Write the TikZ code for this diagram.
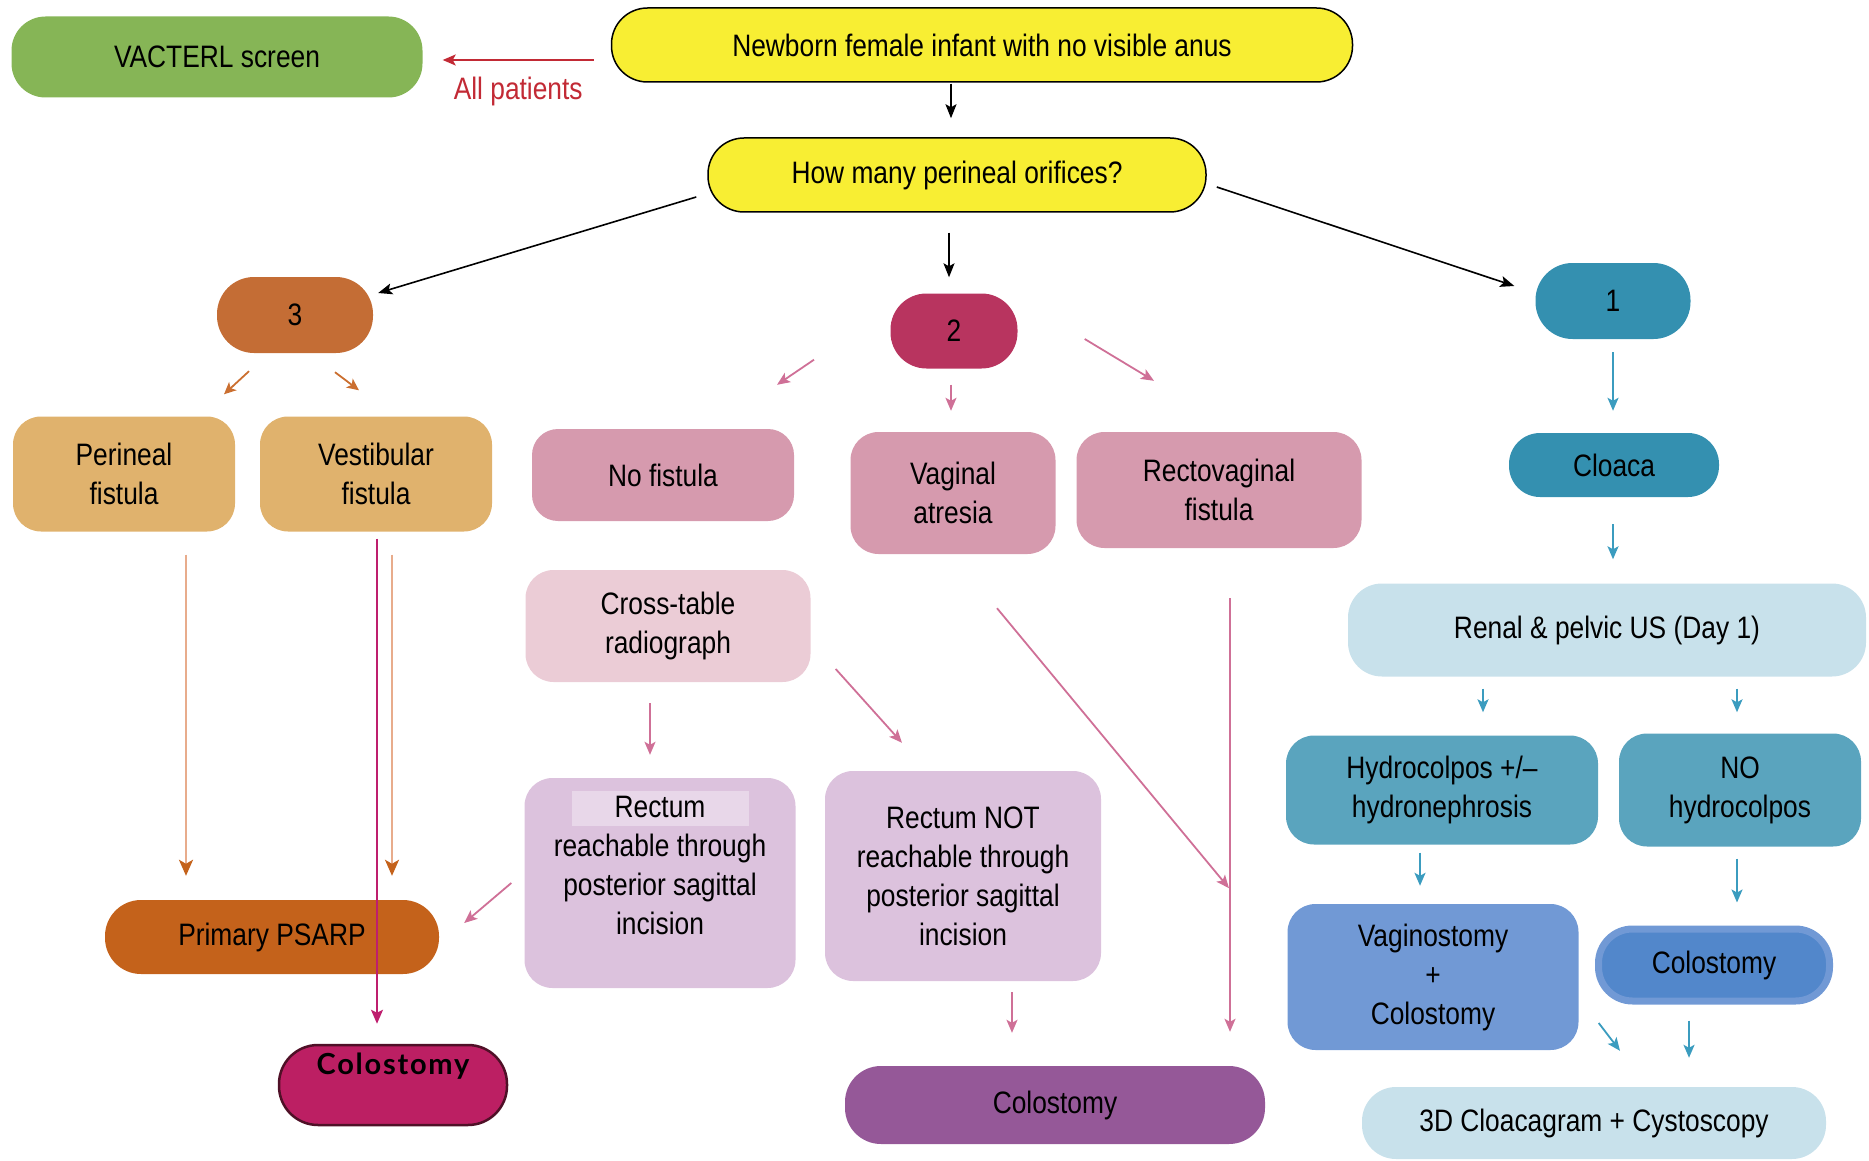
\documentclass[tikz,border=0pt]{standalone}
\usepackage{fontspec}
\setmainfont{Liberation Sans}[FakeStretch=0.85]
\newfontfamily\gillfont[LetterSpace=6]{Lato}
\usetikzlibrary{positioning, arrows.meta, calc}
\definecolor{vacgreen}{HTML}{86B556}
\definecolor{yel}{HTML}{F8EE33}
\definecolor{three}{HTML}{C46D35}
\definecolor{fist}{HTML}{E0B26D}
\definecolor{psarp}{HTML}{C4621B}
\definecolor{colmag}{HTML}{BC1F63}
\definecolor{colmagdark}{HTML}{4F1027}
\definecolor{two}{HTML}{B8345F}
\definecolor{pinkbox}{HTML}{D69AAE}
\definecolor{ctbox}{HTML}{EBCCD6}
\definecolor{rectbox}{HTML}{DCC2DD}
\definecolor{rectlite}{HTML}{E8D7E9}
\definecolor{colpur}{HTML}{955898}
\definecolor{one}{HTML}{3490B0}
\definecolor{renal}{HTML}{C8E1EB}
\definecolor{hydro}{HTML}{5AA4BE}
\definecolor{vagbox}{HTML}{7199D5}
\definecolor{colin}{HTML}{5287CB}
\definecolor{redline}{HTML}{C22A35}
\definecolor{orline}{HTML}{CB6F30}
\definecolor{orlite}{HTML}{E8AC8C}
\definecolor{magline}{HTML}{BE1E6E}
\definecolor{pkline}{HTML}{CF7097}
\definecolor{tlline}{HTML}{3B9CBF}
\tikzset{
  box/.style={rectangle, rounded corners=28pt, align=center, inner sep=2pt,
    font=\fontsize{31}{39}\selectfont},
  blk/.style={draw=black, line width=1.6pt, -{Stealth[length=14pt, width=11pt, inset=3pt]}},
  redarr/.style={draw=redline, line width=2pt, -{Stealth[length=13pt, width=11pt, inset=3pt]}},
  orarr/.style={draw=orline, line width=1.8pt, -{Stealth[length=12pt, width=11pt, inset=3pt]}},
  orlong/.style={draw=orlite, line width=2.4pt, -{Stealth[length=16pt, width=14pt, inset=4pt, color=psarp]}},
  magarr/.style={draw=magline, line width=1.6pt, -{Stealth[length=14pt, width=12pt, inset=3pt]}},
  pkarr/.style={draw=pkline, line width=1.8pt, -{Stealth[length=13pt, width=11pt, inset=3pt]}},
  tlarr/.style={draw=tlline, line width=1.8pt, -{Stealth[length=13pt, width=11pt, inset=3pt]}},
}

\begin{document}
\begin{tikzpicture}[x=1pt, y=-1pt]
  \useasboundingbox (0,0) rectangle (1869,1161);

  \node (A) [box, fill=yel, draw=black, line width=1.5pt, rounded corners=36pt, minimum width=741pt, minimum height=74pt] at (982,45) {Newborn female infant with no visible anus};
  \node (V) [box, fill=vacgreen, rounded corners=34pt, minimum width=411pt, minimum height=81pt] at (217,57) {VACTERL screen};
  \node (Q) [box, fill=yel, draw=black, line width=1.5pt, rounded corners=36pt, minimum width=498pt, minimum height=74pt] at (957,175) {How many perineal orifices?};

  \node (N3) [box, fill=three, rounded corners=37pt, minimum width=156pt, minimum height=76pt] at (295,315) {3};
  \node (N2) [box, fill=two, rounded corners=36pt, minimum width=127pt, minimum height=75pt] at (954,331) {2};
  \node (N1) [box, fill=one, rounded corners=37pt, minimum width=155pt, minimum height=76pt] at (1613,301) {1};

  \node (PF) [box, fill=fist, minimum width=222pt, minimum height=115pt] at (124,474) {Perineal\\fistula};
  \node (VF) [box, fill=fist, minimum width=232pt, minimum height=115pt] at (376,474) {Vestibular\\fistula};
  \node (PS) [box, fill=psarp, rounded corners=36pt, minimum width=334pt, minimum height=74pt] at (272,937) {Primary PSARP};
  \node (CM) [box, fill=colmag, draw=colmagdark, line width=2.5pt, rounded corners=39pt, minimum width=228pt, minimum height=80pt, text depth=42pt, font=\fontsize{29}{34}\gillfont\bfseries] at (393,1085) {Colostomy};

  \node (NF) [box, fill=pinkbox, rounded corners=26pt, minimum width=262pt, minimum height=92pt] at (663,475) {No fistula};
  \node (VA) [box, fill=pinkbox, minimum width=205pt, minimum height=122pt] at (953,493) {Vaginal\\atresia};
  \node (RV) [box, fill=pinkbox, minimum width=285pt, minimum height=116pt] at (1219,490) {Rectovaginal\\fistula};
  \node (CT) [box, fill=ctbox, minimum width=285pt, minimum height=112pt] at (668,626) {Cross-table\\radiograph};
  \node (RR) [box, fill=rectbox, minimum width=271pt, minimum height=210pt, text depth=36pt,
    path picture={\fill[rectlite, sharp corners] ($(path picture bounding box.north)+(-88,13)$) rectangle ($(path picture bounding box.north)+(89,48)$);}]
    at (660,883) {Rectum\\reachable through\\posterior sagittal\\incision};
  \node (RN) [box, fill=rectbox, minimum width=276pt, minimum height=210pt] at (963,876) {Rectum NOT\\reachable through\\posterior sagittal\\incision};
  \node (CP) [box, fill=colpur, rounded corners=36pt, minimum width=420pt, minimum height=78pt] at (1055,1105) {Colostomy};

  \node (CL) [box, fill=one, rounded corners=31pt, minimum width=210pt, minimum height=64pt] at (1614,465) {Cloaca};
  \node (RU) [box, fill=renal, rounded corners=34pt, minimum width=518pt, minimum height=93pt] at (1607,630) {Renal \& pelvic US (Day 1)};
  \node (HY) [box, fill=hydro, minimum width=312pt, minimum height=109pt] at (1442,790) {Hydrocolpos +/--\\hydronephrosis};
  \node (NH) [box, fill=hydro, minimum width=242pt, minimum height=113pt] at (1740,790) {NO\\hydrocolpos};
  \node (VG) [box, fill=vagbox, minimum width=291pt, minimum height=146pt] at (1433,977) {Vaginostomy\\+\\Colostomy};
  \node (CB) [box, fill=colin, draw=vagbox, line width=7pt, rounded corners=34pt, minimum width=231pt, minimum height=72pt] at (1714,965) {Colostomy};
  \node (CG) [box, fill=renal, rounded corners=34pt, minimum width=464pt, minimum height=72pt] at (1594,1123) {3D Cloacagram + Cystoscopy};

  \draw[blk] ($(A.south)+(-31,1)$) -- ($(Q.north)+(-6,-19)$);
  \draw[redarr] ($(A.west)+(-17,15)$) -- node[midway, below=14pt, inner sep=2pt, text=redline, font=\fontsize{31}{34}\selectfont] {All patients} ($(V.east)+(20,3)$);
  \draw[blk] ($(Q.west)+(-11,22)$) -- ($(N3.east)+(5,-22)$);
  \draw[blk] ($(Q.south)+(-8,20)$) -- ($(N2.north)+(-5,-16)$);
  \draw[blk] ($(Q.east)+(10,12)$) -- ($(N1.west)+(-21,-15)$);

  \draw[orarr] ($(N3.south)+(-46,18)$) -- ($(PF.north)+(100,-22)$);
  \draw[orarr] ($(N3.south)+(40,19)$) -- ($(VF.north)+(-17,-26)$);
  \draw[orlong] ($(PF.south)+(62,23)$) -- ($(PS.north)+(-86,-24)$);
  \draw[orlong] ($(VF.south)+(16,23)$) -- ($(PS.north)+(120,-24)$);
  \draw[magarr] ($(VF.south)+(1,7)$) -- ($(CM.north)+(-16,-20)$);

  \draw[pkarr] ($(N2.south)+(-140,-9)$) -- ($(NF.north)+(114,-44)$);
  \draw[pkarr] ($(N2.south)+(-3,16)$) -- ($(VA.north)+(-2,-21)$);
  \draw[pkarr] ($(N2.east)+(67,8)$) -- ($(RV.north)+(-65,-51)$);
  \draw[pkarr] ($(CT.south)+(-18,21)$) -- ($(RR.north)+(-10,-23)$);
  \draw[pkarr] ($(CT.east)+(25,43)$) -- ($(RN.north)+(-61,-28)$);
  \draw[pkarr] ($(RR.west)+(-13,0)$) -- ($(PS.east)+(25,-14)$);
  \draw[pkarr] ($(RN.south)+(49,11)$) -- ($(CP.north)+(-43,-33)$);
  \coordinate (RVM) at ($(RV.south)+(10,340)$);
  \draw[pkarr] ($(VA.south)+(44,54)$) -- (RVM);
  \draw[pkarr] ($(RV.south)+(11,50)$) -- ($(CP.north)+(175,-34)$);

  \draw[tlarr] ($(N1.south)+(0,13)$) -- ($(CL.north)+(-1,-22)$);
  \draw[tlarr] ($(CL.south)+(-1,27)$) -- ($(RU.north)+(6,-24)$);
  \draw[tlarr] ($(RU.south)+(-124,12)$) -- ($(HY.north)+(41,-23)$);
  \draw[tlarr] ($(RU.south)+(130,12)$) -- ($(NH.north)+(-3,-21)$);
  \draw[tlarr] ($(HY.south)+(-22,8)$) -- ($(VG.north)+(-13,-18)$);
  \draw[tlarr] ($(NH.south)+(-3,12)$) -- ($(CB.north)+(23,-23)$);
  \draw[tlarr] ($(VG.east)+(20,46)$) -- ($(CG.north)+(26,-36)$);
  \draw[tlarr] ($(CB.south)+(-25,16)$) -- ($(CG.north)+(95,-29)$);

\end{tikzpicture}
\end{document}
